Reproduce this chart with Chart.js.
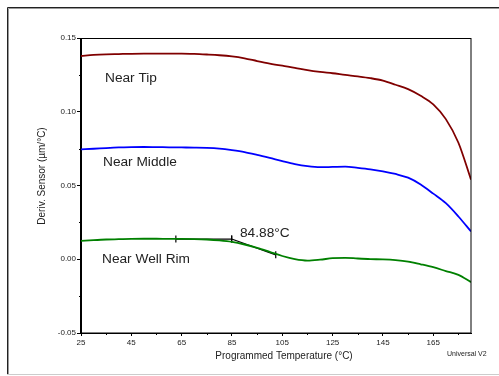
<!DOCTYPE html>
<html>
<head>
<meta charset="utf-8">
<script src="https://cdn.jsdelivr.net/npm/chart.js@4"></script>
<style>
  body { margin: 0; background: #fff; }
  canvas { display: block; }
</style>
</head>
<body>
<canvas id="chart" width="499" height="376"></canvas>
<script>
// temperatures (°C) the curves were read at
const temps = [25, 30, 35, 40, 45, 50, 55, 60, 65, 70, 75, 80, 85, 90, 95, 100, 105, 110,
               115, 120, 125, 130, 135, 140, 145, 150, 155, 160, 165, 170, 175, 180];

// Deriv. Sensor (µm/°C)
const nearTip = [0.1378, 0.1385, 0.1389, 0.1391, 0.1393, 0.1394, 0.1394, 0.1394, 0.1394, 0.1392,
                 0.1388, 0.1383, 0.1375, 0.1362, 0.1344, 0.1327, 0.1312, 0.1298, 0.1282, 0.1270,
                 0.1261, 0.1250, 0.1240, 0.1228, 0.1211, 0.1183, 0.1153, 0.1108, 0.1050, 0.0950,
                 0.0790, 0.0540];
const nearMiddle = [0.0745, 0.0749, 0.0754, 0.0758, 0.0760, 0.0761, 0.0760, 0.0759, 0.0758, 0.0757,
                    0.0755, 0.0750, 0.0740, 0.0727, 0.0708, 0.0687, 0.0665, 0.0645, 0.0631, 0.0624,
                    0.0626, 0.0628, 0.0620, 0.0610, 0.0596, 0.0578, 0.0553, 0.0507, 0.0445, 0.0380,
                    0.0290, 0.0188];
const nearWellRim = [0.0125, 0.0130, 0.0134, 0.0136, 0.0138, 0.0139, 0.0139, 0.0138, 0.0138, 0.0137,
                     0.0134, 0.0128, 0.0118, 0.0100, 0.0077, 0.0050, 0.0022, 0.0001, -0.0009, -0.0003,
                     0.0007, 0.0010, 0.0005, 0.0001, -0.0001, -0.0006, -0.0016, -0.0034, -0.0054, -0.0080,
                     -0.0106, -0.0155];

// onset analysis on the Near Well Rim curve
const baselineX = [62.7, 84.88];
const baselineY = [0.0137, 0.0137];
const tangentX = [84.88, 102.4];
const tangentY = [0.0137, 0.0030];
const onsetLabel = '84.88°C';

const xMajor = [25, 45, 65, 85, 105, 125, 145, 165];
const xMinor = [35, 55, 75, 95, 115, 135, 155, 175];
const yMajor = [-0.05, 0, 0.05, 0.10, 0.15];
const yMinor = [-0.025, 0.025, 0.075, 0.125];

const FONT = '"Liberation Sans", Arial, sans-serif';

function pts(xs, ys) {
    return xs.map((x, i) => ({ x: x, y: ys[i] }));
}

const extras = {
    id: 'extras',
    beforeDraw(chart) {
        const c = chart.ctx;
        c.save();
        c.fillStyle = '#fff';
        c.fillRect(0, 0, chart.width, chart.height);
        // outer frame
        c.strokeStyle = '#222';
        c.lineWidth = 1;
        c.beginPath();
        c.moveTo(7.5, 374); c.lineTo(7.5, 7.5); c.lineTo(499, 7.5);
        c.stroke();
        c.strokeStyle = '#999';
        c.beginPath();
        c.moveTo(8.5, 374); c.lineTo(8.5, 8.5); c.lineTo(499, 8.5);
        c.stroke();
        c.strokeStyle = '#ccc';
        c.beginPath();
        c.moveTo(7, 374.5); c.lineTo(499, 374.5);
        c.stroke();
        c.restore();
    },
    afterDraw(chart) {
        const c = chart.ctx;
        const a = chart.chartArea;
        const xs = chart.scales.x, ys = chart.scales.y;
        c.save();
        c.strokeStyle = '#000';
        c.lineWidth = 1;
        c.strokeRect(Math.round(a.left) - 0.5, Math.round(a.top) + 0.5,
                     Math.round(a.right - a.left) + 0.5, Math.round(a.bottom - a.top) - 0.5);
        // minor ticks
        c.beginPath();
        yMinor.forEach(v => {
            const py = Math.round(ys.getPixelForValue(v)) + 0.5;
            c.moveTo(a.left - 2, py); c.lineTo(a.left, py);
        });
        xMinor.forEach(v => {
            const px = Math.round(xs.getPixelForValue(v)) + 0.5;
            c.moveTo(px, a.bottom); c.lineTo(px, a.bottom + 2);
        });
        c.stroke();

        c.fillStyle = '#222';
        c.textBaseline = 'middle';
        c.textAlign = 'left';
        c.font = '13.7px ' + FONT;
        c.fillText('Near Tip', 105, 78);
        c.fillText('Near Middle', 103, 162);
        c.fillText('Near Well Rim', 102, 259);
        c.fillText(onsetLabel, 240, 233);

        c.font = '7px ' + FONT;
        c.fillText('Universal V2', 447, 354);

        c.font = '10px ' + FONT;
        c.textAlign = 'center';
        c.fillText('Programmed Temperature (°C)', 284, 356);
        c.translate(42, 176);
        c.rotate(-Math.PI / 2);
        c.fillText('Deriv. Sensor (µm/°C)', 0, 0);
        c.restore();
    }
};

const lineStyle = {
    pointRadius: 0,
    borderWidth: 1.8,
    cubicInterpolationMode: 'monotone',
    fill: false
};

new Chart(document.getElementById('chart'), {
    type: 'line',
    data: {
        datasets: [
            Object.assign({ label: 'Near Tip', data: pts(temps, nearTip), borderColor: '#800000' }, lineStyle),
            Object.assign({ label: 'Near Middle', data: pts(temps, nearMiddle), borderColor: '#0000ff' }, lineStyle),
            Object.assign({ label: 'Near Well Rim', data: pts(temps, nearWellRim), borderColor: '#008000' }, lineStyle),
            {
                label: 'baseline', data: pts(baselineX, baselineY), borderColor: '#000', borderWidth: 1.2,
                pointStyle: 'line', rotation: 90, pointRadius: 3.5, pointBorderColor: '#000', pointBorderWidth: 1.2
            },
            {
                label: 'tangent', data: pts(tangentX, tangentY), borderColor: '#000', borderWidth: 1.2,
                pointStyle: 'line', rotation: 90, pointRadius: 3.5, pointBorderColor: '#000', pointBorderWidth: 1.2
            }
        ]
    },
    options: {
        responsive: false,
        animation: false,
        layout: { padding: { left: 0, top: 38, right: 28, bottom: 0 } },
        plugins: { legend: { display: false }, tooltip: { enabled: false } },
        scales: {
            x: {
                type: 'linear',
                min: 25,
                max: 180,
                afterBuildTicks: s => { s.ticks = xMajor.map(v => ({ value: v })); },
                afterFit: s => { s.height = 43; },
                grid: { drawOnChartArea: false, tickLength: 3, color: '#000' },
                border: { color: '#000' },
                ticks: {
                    padding: 2, maxRotation: 0, autoSkip: false,
                    color: '#222', font: { size: 8, family: FONT },
                    callback: v => String(v)
                }
            },
            y: {
                min: -0.05,
                max: 0.15,
                afterBuildTicks: s => { s.ticks = yMajor.map(v => ({ value: v })); },
                afterFit: s => { s.width = 81; },
                grid: { drawOnChartArea: false, tickLength: 4, color: '#000' },
                border: { color: '#000' },
                ticks: {
                    padding: 1, autoSkip: false,
                    color: '#222', font: { size: 8, family: FONT },
                    callback: v => v.toFixed(2)
                }
            }
        }
    },
    plugins: [extras]
});
</script>
</body>
</html>
